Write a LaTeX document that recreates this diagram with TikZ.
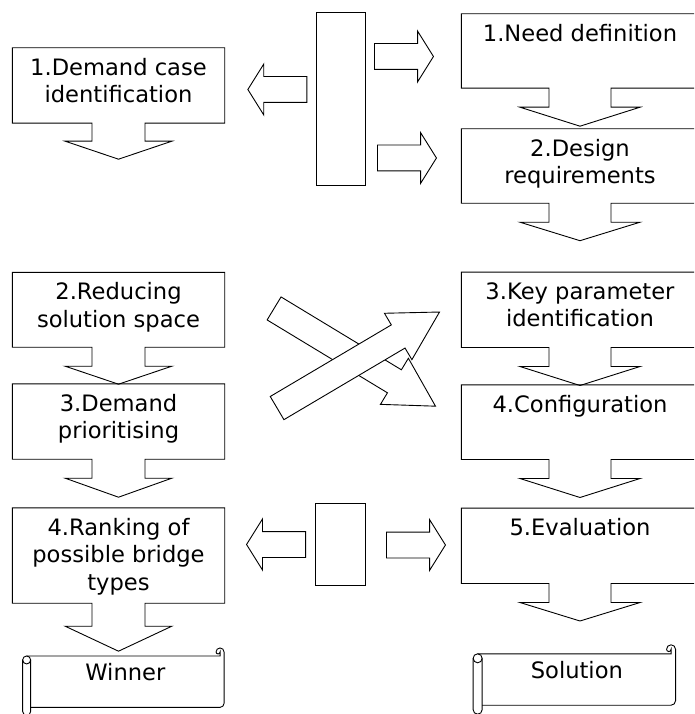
\documentclass[tikz,border=0pt]{standalone}
\usepackage{fontspec}
\setmainfont{DejaVu Sans}
\usetikzlibrary{shapes.arrows,calc}

% riquadro con freccia in basso: nodo, mezzo gambo, mezza punta, lunghezza gambo, lunghezza punta
\newcommand{\stagearrow}[5]{%
  \draw[outline] (#1.south west) -- (#1.north west) -- (#1.north east) -- (#1.south east)
    -- ($(#1.south)+(#2,0)$) -- ++(0,#4) -- ++({#3-#2},0) -- ++({-#3},#5)
    -- ++({-#3},{-#5}) -- ++({#3-#2},0) -- ++(0,{-#4}) -- cycle;}

% pergamena orizzontale attorno a un nodo: nodo, raggio del rotolo
\newcommand{\scrollshape}[2]{%
  \draw[outline] ($(#1.north west)+(-#2,0)$) -- ($(#1.north east)+(-#2,0)$) -- ++(0,-#2)
    arc[start angle=0, end angle=180, radius=#2/2] arc[start angle=180, end angle=360, radius=#2]
    -- ($(#1.south east)+(0,-#2)$) arc[start angle=0, end angle=90, radius=#2] -- (#1.south west);
  \draw[outline] ($(#1.north west)+(-#2,#2)$) circle[radius=#2];
  \draw[outline] ($(#1.north west)+(-2*#2,#2)$) -- ($(#1.south west)+(-2*#2,#2)$)
    arc[start angle=180, end angle=0, radius=#2] -- ($(#1.north west)+(0,#2)$);}

\begin{document}
\begin{tikzpicture}[x=1pt, y=-1pt, line join=miter,
    outline/.style={draw=black, line width=0.9pt},
    stage/.style={minimum height=75, inner sep=0pt},
    leftstage/.style={stage, minimum width=212},
    rightstage/.style={stage, minimum width=237},
    stagetext/.style={anchor=north, align=center, inner sep=10pt, font=\fontsize{22.6}{27.6}\selectfont},
    scrollbody/.style={minimum width=193, minimum height=51, inner sep=0pt},
    scrolltext/.style={anchor=north, inner sep=7.5pt, xshift=-2pt, font=\fontsize{22.6}{27.6}\selectfont},
    hub/.style={draw=black, line width=0.9pt, inner sep=0pt},
    blockarrow/.style={single arrow, draw=black, fill=white, line width=0.9pt,
      inner xsep=0pt, inner ysep=12.5pt,
      minimum height=59, minimum width=50, single arrow head extend=12.5,
      single arrow tip angle=116, anchor=tail},
    crossarrow/.style={blockarrow, inner ysep=13pt, minimum height=188.7, minimum width=53,
      single arrow head extend=13.5, single arrow tip angle=58.6}]
  \useasboundingbox (0,0) rectangle (694,714);
  \clip (0,0) rectangle (694,714);

  % Colonna sinistra
  \node[leftstage, label={[stagetext]north:1.Demand case\\identification}] (demand) at (118.5,85.5) {};
  \node[leftstage, minimum height=74.5, label={[stagetext]north:2.Reducing\\solution space}] (reduce) at (118.5,309.75) {};
  \node[leftstage, label={[stagetext]north:3.Demand\\prioritising}] (prior) at (118.5,421.5) {};
  \node[leftstage, minimum height=95, label={[stagetext]north:4.Ranking of\\possible bridge\\types}] (rank) at (118.5,555.5) {};
  \stagearrow{demand}{26.5}{53.3}{18}{18}
  \stagearrow{reduce}{26.5}{53.3}{19}{18}
  \stagearrow{prior}{26.5}{53.3}{19}{19}
  \stagearrow{rank}{26.5}{53.3}{23}{25}

  % Colonna destra
  \node[rightstage, minimum height=74, label={[stagetext]north:1.Need definition}] (need) at (580,51) {};
  \node[rightstage, minimum height=74, label={[stagetext]north:2.Design\\requirements}] (design) at (580,166) {};
  \node[rightstage, label={[stagetext]north:3.Key parameter\\identification}] (keypar) at (580,309.8) {};
  \node[rightstage, minimum height=74.3, label={[stagetext]north:4.Configuration}] (config) at (580,422.15) {};
  \node[rightstage, label={[stagetext]north:5.Evaluation}] (evalu) at (580,545.8) {};
  \stagearrow{need}{31}{60}{19}{19}
  \stagearrow{design}{31}{60}{19}{18.5}
  \stagearrow{keypar}{31}{60}{19}{19}
  \stagearrow{config}{31}{60}{19}{19}
  \stagearrow{evalu}{31}{60}{19}{18.5}

  % Pergamene finali
  \node[scrollbody, label={[scrolltext]north:Winner}] (winner) at (127.35,681.65) {};
  \node[scrollbody, label={[scrolltext]north:Solution}] (solution) at (578.85,679.5) {};
  \scrollshape{winner}{4}
  \scrollshape{solution}{4.5}

  % Rettangoli centrali e frecce a blocco
  \node[hub, minimum width=49, minimum height=173] (hubtop) at (340.5,98.5) {};
  \node[hub, minimum width=50, minimum height=82] (hubbot) at (340,544) {};
  \node[blockarrow, rotate=180] (toDemand) at (307.3,89.5) {};
  \node[blockarrow] (toNeed) at (374,56.5) {};
  \node[blockarrow] (toDesign) at (377,158) {};
  \node[blockarrow, rotate=180] (toRank) at (306,544.5) {};
  \node[blockarrow] (toEvalu) at (386,545) {};

  % Frecce incrociate
  \node[crossarrow, rotate=-31.2] (toConfig) at (273.7,308.2) {};
  \node[crossarrow, rotate=30.6] (toKeypar) at (276.7,408.3) {};
\end{tikzpicture}
\end{document}
